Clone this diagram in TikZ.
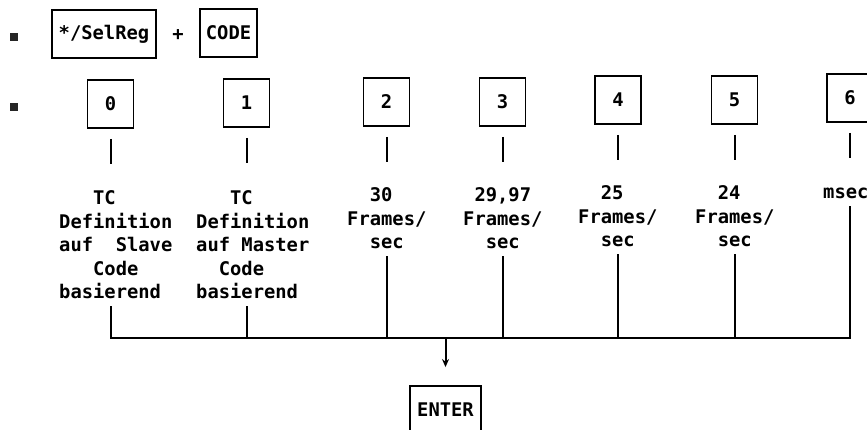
\documentclass[tikz,border=0pt]{standalone}
\usepackage{fontspec}
\setmonofont{DejaVu Sans Mono}
\usetikzlibrary{arrows.meta}
\newcommand\monofnt{\ttfamily\bfseries\fontsize{18.8}{23.5}\selectfont}
\tikzset{
  keybox/.style={draw, line width=1.9pt, minimum width=46pt, minimum height=48pt, inner sep=0pt, font=\monofnt},
  lbl/.style={inner sep=0pt, font=\monofnt, anchor=base west},
  wire/.style={line width=2pt},
  bulletbox/.style={fill=black!85, minimum size=8pt, inner sep=0pt},
  downarrow/.style={-{Stealth[length=8pt,width=7pt]}},
}
\begin{document}
\begin{tikzpicture}[x=1pt,y=-1pt]
\useasboundingbox (0,0) rectangle (867,430);
\clip (0,0) rectangle (867,430);
% bullets
\node[bulletbox] (bul1) at (14,37) {};
\node[bulletbox] (bul2) at (14,107) {};
% first row
\node[keybox, minimum width=104pt] (sel) at (104,34) {*/SelReg};
\node[inner sep=0pt, font=\monofnt] (plus) at (178,35) {+};
\node[keybox, minimum width=57pt] (code) at (228.5,33) {CODE};
% number keys
\node[keybox] (b0) at (110.5,104) {0};
\node[keybox] (b1) at (246.5,103) {1};
\node[keybox] (b2) at (386.5,102) {2};
\node[keybox] (b3) at (502.5,102) {3};
\node[keybox] (b4) at (618,100) {4};
\node[keybox] (b5) at (734.5,100) {5};
\node[keybox] (b6) at (850,98) {6};
% ticks
\foreach \b in {b0,b1,b2,b3,b4,b5,b6}
  \draw[wire] (\b.south) ++(0,10) -- ++(0,25);
% labels
\node[lbl] (l0) at (59,205) {\begin{tabular}[t]{@{}l@{}}~~~TC\\Definition\\auf~~Slave\\~~~Code\\basierend\end{tabular}};
\node[lbl] (l1) at (196,205) {\begin{tabular}[t]{@{}l@{}}~~~TC\\Definition\\auf~Master\\~~Code\\basierend\end{tabular}};
\node[lbl] (l2) at (347,202) {\begin{tabular}[t]{@{}l@{}}~~30\\Frames/\\~~sec\end{tabular}};
\node[lbl] (l3) at (463,202) {\begin{tabular}[t]{@{}l@{}}~29,97\\Frames/\\~~sec\end{tabular}};
\node[lbl] (l4) at (578,200) {\begin{tabular}[t]{@{}l@{}}~~25\\Frames/\\~~sec\end{tabular}};
\node[lbl] (l5) at (695,200) {\begin{tabular}[t]{@{}l@{}}~~24\\Frames/\\~~sec\end{tabular}};
\node[lbl] (l6) at (823,199) {\begin{tabular}[t]{@{}l@{}}msec\end{tabular}};
% bus
\coordinate (bus) at (0,338);
\draw[wire] (l0.south -| b0) -- (b0 |- bus) -- (b6 |- bus) -- (l6.south -| b6);
\foreach \i in {1,2,3,4,5}
  \draw[wire] (l\i.south -| b\i) -- (b\i |- bus);
% enter
\node[keybox, minimum width=71pt] (enter) at (445.5,410) {ENTER};
\draw[wire, downarrow] (enter |- bus) -- ([yshift=18pt]enter.north);
\end{tikzpicture}
\end{document}
